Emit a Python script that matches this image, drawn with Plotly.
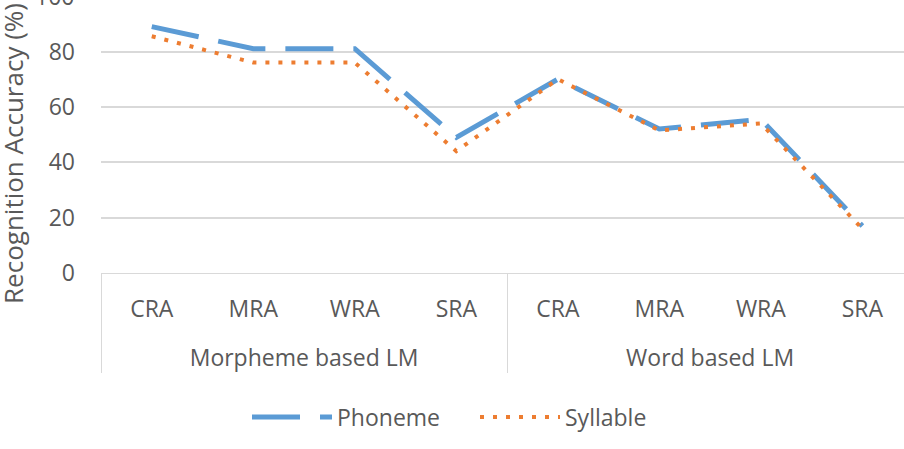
import plotly.graph_objects as go

groups = ["<br>Morpheme based LM"] * 4 + ["<br>Word based LM"] * 4
metrics = ["CRA", "MRA", "WRA", "SRA"] * 2
phoneme = [89, 81, 81, 49, 70, 52, 55.5, 17]
syllable = [85.5, 76, 76, 44, 70, 51.5, 54, 16]
y_ticks = [0, 20, 40, 60, 80]
y_max = 98.6

TXT = "#595959"
FONT = "Open Sans"
FS = 23

fig = go.Figure()
fig.add_trace(go.Scatter(
    x=[groups, metrics], y=phoneme, name="Phoneme", mode="lines",
    line=dict(color="#5B9BD5", width=5, dash="48px,20px"),
))
fig.add_trace(go.Scatter(
    x=[groups, metrics], y=syllable, name="Syllable", mode="lines",
    line=dict(color="#ED7D31", width=4, dash="4px,9px"),
))

fig.update_layout(
    width=904, height=449,
    margin=dict(l=101, r=0, t=0, b=176, autoexpand=False),
    paper_bgcolor="white", plot_bgcolor="white",
    font=dict(family=FONT, color=TXT, size=FS),
    showlegend=True,
    legend=dict(orientation="h", x=247 / 904, xanchor="left", xref="container",
                y=0.071, yanchor="middle", yref="container",
                font=dict(size=FS, color=TXT), itemwidth=80, entrywidth=133),
    xaxis=dict(
        type="multicategory", range=[-0.5, 7.41], automargin=False,
        showgrid=False, showline=True, linecolor="#D9D9D9", linewidth=1,
        ticks="", tickfont=dict(size=FS, color=TXT), ticklabelstandoff=15,
        showdividers=True, dividercolor="#D9D9D9", dividerwidth=1,
    ),
    yaxis=dict(
        range=[0, y_max], tickvals=y_ticks, showgrid=True, gridcolor="#D9D9D9",
        gridwidth=1.5, zeroline=False, showline=False, ticks="", automargin=False,
        tickfont=dict(size=FS, color=TXT), ticklabelstandoff=25,
    ),
    annotations=[
        dict(text="100", x=0, xref="paper", xanchor="right", xshift=-25,
             y=100 / y_max, yref="paper", yanchor="middle", showarrow=False,
             font=dict(size=FS, color=TXT)),
        dict(text="Recognition Accuracy (%)", textangle=-90, x=0, xref="paper",
             xanchor="center", xshift=-88, y=0.436, yref="paper", yanchor="middle",
             showarrow=False, font=dict(size=26, color=TXT)),
    ],
)

fig.write_html("out.html")
